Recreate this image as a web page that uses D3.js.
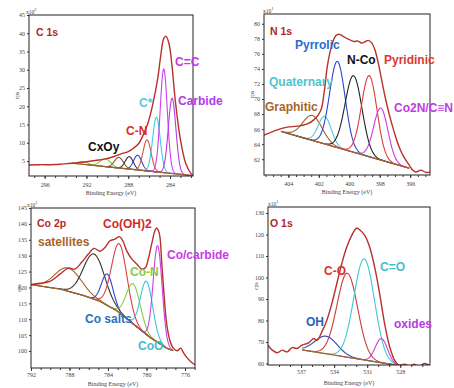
<!DOCTYPE html>
<html>
<head>
<meta charset="utf-8">
<script src="https://cdn.jsdelivr.net/npm/d3@7"></script>
<style>
  body { margin: 0; background: #fff; }
  svg { display: block; }
  .tick text { font-family: "Liberation Serif", serif; fill: #444; }
  .tick line, .domain { stroke: #333; }
  .lbl { font-family: "Liberation Sans", Arial, sans-serif; font-weight: bold; }
</style>
</head>
<body>
<svg id="chart" width="454" height="388"></svg>
<script>
// ---- C 1s (counts x10^2) ----
const c1sRaw = [[297.5,3.9],[296.5,4.0],[295.5,4.0],[294.5,4.1],[293.9,4.3],[293,4.5],[292,4.8],[291,5.2],
  [290.2,5.6],[289.5,6.1],[288.75,6.9],[288,7.6],[287.5,8.5],[287,9.8],[286.5,12.6],[286.1,15.5],[285.7,19.9],
  [285.2,27.2],[284.9,33.6],[284.6,38.6],[284.4,39.2],[284.1,37.2],[283.8,30.8],[283.5,21.7],[283.0,10.8],
  [282.5,4.4],[282.0,1.6],[281.8,1.1]];
const c1sBackground = [[293.4,4.4],[281.8,1.0]];
const c1sCenters = [292.3, 290.2, 288.9, 287.9, 287.1, 286.2, 285.3, 284.6, 283.8];
const c1sTops    = [4.8, 5.6, 6.0, 6.2, 6.6, 10.8, 17.0, 30.2, 22.2];
const c1sWidths  = [1.1, 1.2, 1.0, 0.9, 0.9, 0.9, 0.85, 0.8, 0.85];
const c1sXTicks = [296, 292, 288, 284];
const c1sYTicks = [5, 10, 15, 20, 25, 30, 35, 40, 45];

// ---- N 1s (counts x10^1) ----
const n1sRaw = [[405.6,65.2],[404.72,65.9],[404.07,66.26],[403.41,66.39],[402.75,66.7],[402.31,67.26],
  [401.88,68.44],[401.65,70.87],[401.44,74.37],[401.17,77.0],[400.89,78.4],[400.67,78.6],[400.38,78.3],
  [400.07,77.97],[399.72,77.66],[399.42,77.7],[399.2,77.44],[398.98,77.6],[398.76,77.8],[398.54,77.5],
  [398.32,76.56],[398.1,74.8],[397.88,72.6],[397.66,70.4],[397.38,68.0],[397.05,65.6],[396.72,63.6],
  [396.39,62.2],[396.06,61.2],[395.84,60.55],[395.63,60.3],[395.3,60.55],[394.97,60.25],[394.64,60.3]];
const n1sBackground = [[404.5,65.7],[396.06,60.8]];
const n1sCenters = [402.42, 401.61, 400.78, 399.72, 398.69, 397.93];
const n1sTops    = [67.8, 67.7, 75.0, 73.1, 73.1, 68.8];
const n1sWidths  = [1.5, 1.0, 1.2, 1.3, 1.2, 1.1];
const n1sXTicks = [404, 402, 400, 398, 396];
const n1sYTicks = [62, 64, 66, 68, 70, 72, 74, 76, 78, 80];

// ---- Co 2p (counts x10^1) ----
const co2pRaw = [[792,120.9],[791.07,121.3],[790.03,121.9],[788.99,124.2],[788.12,126.1],[787.43,125.8],
  [786.73,127.9],[786.04,130.5],[785.45,132.3],[784.83,131.4],[784.31,132.6],[783.79,134.7],[783.27,135.2],
  [782.82,136.0],[782.47,134.7],[782.06,131.6],[781.54,129.0],[781.02,127.4],[780.5,125.8],[780.09,126.3],
  [779.81,129.0],[779.46,133.7],[779.12,137.9],[778.95,138.7],[778.67,137.0],[778.43,128.4],[778.18,117.9],
  [777.9,108.5],[777.56,103.2],[777.22,100.9],[776.8,100.1],[776.45,100.9],[776.18,99.6],[775.82,98.0],
  [775.3,96.4],[774.96,95.7]];
const co2pBackground = [[792,120.9],[788.99,119.5],[786.57,117.5],[784.83,115.6],[783.1,112.7],
  [781.37,108.5],[779.64,104.3],[777.9,100.9],[777.22,100.1]];
const co2pCenters = [788.12, 785.45, 784.07, 782.82, 781.37, 779.99, 778.84];
const co2pTops    = [126.1, 130.5, 124.2, 133.7, 121.1, 121.9, 133.1];
const co2pWidths  = [3.2, 2.6, 1.4, 1.9, 1.7, 1.5, 1.1];
const co2pXTicks = [792, 788, 784, 780, 776];
const co2pYTicks = [100, 105, 110, 115, 120, 125, 130, 135, 140, 145];

// ---- O 1s (counts x10^1) ----
const o1sRaw = [[540,68.5],[539.61,66.2],[539.16,65.0],[538.71,66.2],[538.26,65.4],[537.81,67.4],
  [537.36,67.0],[536.91,68.5],[536.31,69.6],[535.86,71.6],[535.56,70.8],[535.11,74.7],[534.66,80.1],
  [534.21,87.8],[533.76,97.1],[533.31,106.4],[532.86,114.1],[532.41,119.5],[531.96,122.9],[531.66,122.1],
  [531.21,119.5],[530.77,114.1],[530.32,104.8],[529.87,92.5],[529.42,78.6],[528.96,67.8],[528.51,61.5],
  [528.07,59.2],[527.62,59.7],[527.17,58.8],[526.72,59.7],[526.27,58.5],[525.82,60.0],[525.37,59.2]];
const o1sBackground = [[536.91,66.3],[528.07,59.0]];
const o1sCenters = [534.73, 532.8, 531.27, 529.71];
const o1sTops    = [72.7, 102.0, 108.7, 71.6];
const o1sWidths  = [2.4, 2.2, 2.2, 1.3];
const o1sXTicks = [537, 534, 531, 528];
const o1sYTicks = [60, 70, 80, 90, 100, 110, 120, 130];

const svg = d3.select("#chart");

const panels = [
  { raw: c1sRaw, bg: c1sBackground, centers: c1sCenters, tops: c1sTops, widths: c1sWidths,
    xTicks: c1sXTicks, yTicks: c1sYTicks, minorStep: 1, box: [29, 15, 193, 176],
    xDomain: [297.5, 281.8], yDomain: [0.9, 45], exp: "2", expPos: [26, 14],
    tickPad: 4, titleOff: 19,
    colors: ["#e0a830", "#7cc63c", "#8b5a2b", "#333333", "#3248d0", "#d0583c", "#3ccfe0", "#d23ef0", "#b43ce6"],
    labels: [["C 1s", 36, 36, "#b0282a", 10.5], ["C=C", 175, 66, "#c835ec", 12], ["Carbide", 178, 105, "#b03ce8", 12],
             ["C*", 139, 107, "#5cc8dc", 12], ["C-N", 126, 135, "#e02a2a", 12], ["CxOy", 88, 151, "#111111", 12]] },
  { raw: n1sRaw, bg: n1sBackground, centers: n1sCenters, tops: n1sTops, widths: n1sWidths,
    xTicks: n1sXTicks, yTicks: n1sYTicks, minorStep: 0.5, box: [264, 14, 430, 175],
    xDomain: [405.6, 394.7], yDomain: [59.9, 81.3], exp: "1", expPos: [263, 13],
    tickPad: 4, titleOff: 19,
    colors: ["#a0632c", "#52c8d4", "#2848c8", "#222222", "#e03a3a", "#c83ce0"],
    labels: [["N 1s", 270, 35, "#b0282a", 10.5], ["Pyrrolic", 295, 49, "#2a6cd0", 12], ["N-Co", 347, 64, "#111111", 12],
             ["Pyridinic", 384, 64, "#e03636", 12], ["Quaternary", 269, 86, "#4ec4d0", 12],
             ["Graphitic", 265, 111, "#a5652a", 12], ["Co2N/C\u2261N", 394, 112, "#c03ce0", 12]] },
  { raw: co2pRaw, bg: co2pBackground, centers: co2pCenters, tops: co2pTops, widths: co2pWidths,
    xTicks: co2pXTicks, yTicks: co2pYTicks, minorStep: 1, box: [31, 208, 195, 368],
    xDomain: [792, 774.96], yDomain: [94.65, 145], exp: "1", expPos: [27, 207],
    tickPad: 2, titleOff: 18,
    colors: ["#a0642c", "#333333", "#3040d0", "#d84040", "#80cc48", "#40c4d8", "#d040e8"],
    labels: [["Co 2p", 37, 227, "#b0282a", 10.5], ["Co(OH)2", 103, 228, "#d42a2a", 12], ["satellites", 38, 246, "#a5652a", 12],
             ["Co/carbide", 167, 259, "#c83ce8", 12], ["Co-N", 130, 276, "#88cc44", 12],
             ["Co salts", 85, 323, "#2a70c0", 12], ["CoO", 138, 350, "#44bcd0", 12]] },
  { raw: o1sRaw, bg: o1sBackground, centers: o1sCenters, tops: o1sTops, widths: o1sWidths,
    xTicks: o1sXTicks, yTicks: o1sYTicks, minorStep: 1, box: [268, 207, 430, 365],
    xDomain: [540, 525.3], yDomain: [59.3, 132.8], exp: "1", expPos: [268, 206],
    tickPad: 2, titleOff: 20,
    colors: ["#2c48c0", "#c83c3c", "#40c8d0", "#c040d8"],
    labels: [["O 1s", 270, 227, "#b0282a", 10.5], ["C-O", 324, 275, "#e03030", 12], ["C=O", 380, 271, "#44c0d0", 12],
             ["OH", 306, 326, "#2a60c0", 12], ["oxides", 394, 328, "#b83ce0", 12]] }
];

panels.forEach((p, i) => {
  const [x0, y0, x1, y1] = p.box;
  const x = d3.scaleLinear().domain(p.xDomain).range([x0, x1]);
  const y = d3.scaleLinear().domain(p.yDomain).range([y1, y0]);
  const g = svg.append("g");

  g.append("clipPath").attr("id", "clip" + i)
    .append("rect").attr("x", x0).attr("y", y0).attr("width", x1 - x0).attr("height", y1 - y0);

  const plot = g.append("g").attr("clip-path", `url(#clip${i})`);
  const line = d3.line().x(d => x(d[0])).y(d => y(d[1])).curve(d3.curveCatmullRom.alpha(0.5));

  // background as piecewise linear scale
  const bgE = p.bg.map(d => d[0]);
  const bgY = p.bg.map(d => d[1]);
  const bgScale = d3.scaleLinear().domain(bgE).range(bgY).clamp(true);
  const eMax = d3.max(bgE), eMin = d3.min(bgE);

  // fitted components (gaussian peaks on background)
  p.centers.forEach((c, k) => {
    const fwhm = p.widths[k];
    const amp = p.tops[k] - bgScale(c);
    const s = fwhm / 2.3548;
    const pts = d3.range(c - 3 * fwhm, c + 3 * fwhm, fwhm / 30)
      .filter(e => e >= eMin && e <= eMax)
      .reverse()
      .map(e => [e, bgScale(e) + amp * Math.exp(-((e - c) ** 2) / (2 * s * s))]);
    plot.append("path").attr("d", d3.line().x(d => x(d[0])).y(d => y(d[1]))(pts))
      .attr("fill", "none").attr("stroke", p.colors[k]).attr("stroke-width", 1.1);
  });

  plot.append("path").attr("d", d3.line().x(d => x(d[0])).y(d => y(d[1]))(p.bg))
    .attr("fill", "none").attr("stroke", "#a0642c").attr("stroke-width", 1.3);

  plot.append("path").attr("d", line(p.raw))
    .attr("fill", "none").attr("stroke", "#b8302c").attr("stroke-width", 1.4);

  // frame
  g.append("rect").attr("x", x0).attr("y", y0).attr("width", x1 - x0).attr("height", y1 - y0)
    .attr("fill", "none").attr("stroke", "#222").attr("stroke-width", 1);

  // axes
  const lo = Math.min(...p.xDomain), hi = Math.max(...p.xDomain);
  const minor = d3.range(Math.ceil(lo / p.minorStep) * p.minorStep, hi, p.minorStep);
  g.append("g").attr("transform", `translate(0,${y1})`)
    .call(d3.axisBottom(x).tickValues(minor).tickFormat("").tickSize(2).tickSizeOuter(0))
    .call(a => a.select(".domain").remove());
  g.append("g").attr("transform", `translate(0,${y1})`)
    .call(d3.axisBottom(x).tickValues(p.xTicks).tickSize(3).tickPadding(p.tickPad).tickSizeOuter(0))
    .call(a => a.select(".domain").remove())
    .call(a => a.selectAll("text").attr("font-size", 6));
  g.append("g").attr("transform", `translate(${x0},0)`)
    .call(d3.axisLeft(y).tickValues(p.yTicks).tickSize(2).tickPadding(2).tickSizeOuter(0))
    .call(a => a.select(".domain").remove())
    .call(a => a.selectAll("text").attr("font-size", 6));

  g.append("text").attr("x", (x0 + x1) / 2).attr("y", y1 + p.titleOff).attr("text-anchor", "middle")
    .attr("font-family", "Liberation Serif, serif").attr("font-size", 6).attr("fill", "#444")
    .text("Binding Energy (eV)");
  g.append("text").attr("transform", `translate(${x0 - 10},${(y0 + y1) / 2}) rotate(-90)`)
    .attr("text-anchor", "middle").attr("font-family", "Liberation Serif, serif")
    .attr("font-size", 5.5).attr("fill", "#444").text("cps");

  const ex = g.append("text").attr("x", p.expPos[0]).attr("y", p.expPos[1])
    .attr("font-family", "Liberation Serif, serif").attr("font-size", 5.5).attr("fill", "#444");
  ex.append("tspan").text("x10");
  ex.append("tspan").attr("dy", -3).attr("font-size", 4.5).text(p.exp);

  p.labels.forEach(l => {
    g.append("text").attr("class", "lbl").attr("x", l[1]).attr("y", l[2])
      .attr("fill", l[3]).attr("font-size", l[4]).text(l[0]);
  });
});
</script>
</body>
</html>
